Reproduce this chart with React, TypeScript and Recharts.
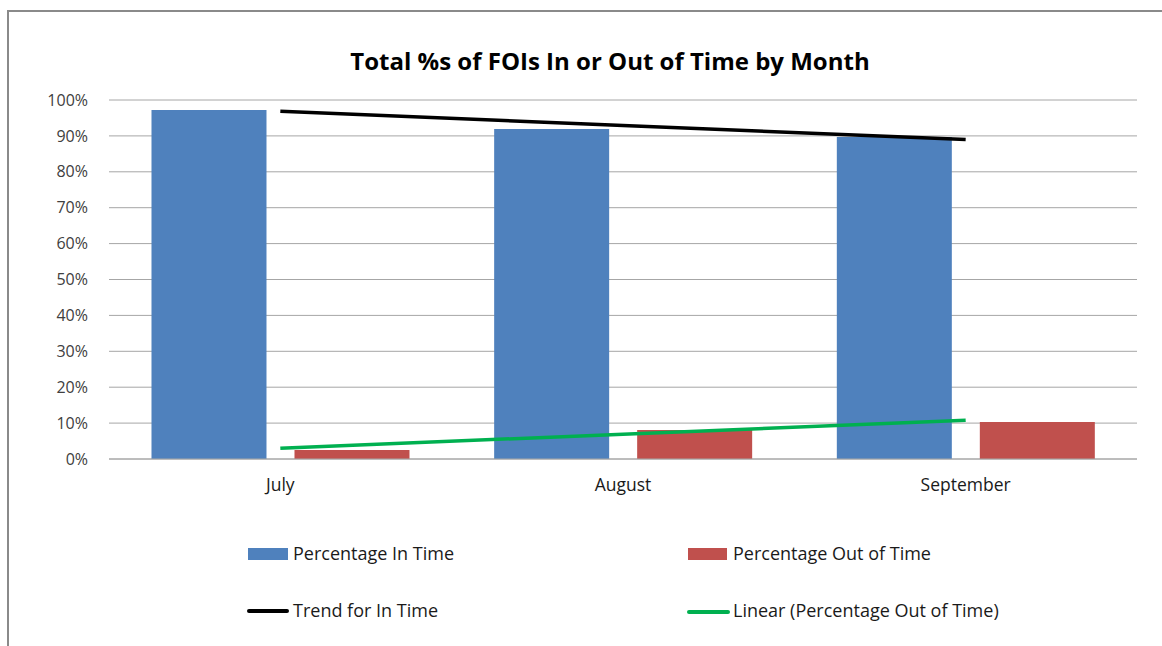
import React from 'react';
import { ComposedChart, Bar, Line, XAxis, YAxis, CartesianGrid } from 'recharts';

const months = ['July', 'August', 'September'];
const inTime = [97.2, 91.9, 89.7];
const outTime = [2.5, 8.1, 10.3];
const trendIn = [96.9, 92.9, 89.0];
const trendOut = [3.0, 6.9, 10.8];
const yTicks = [0, 10, 20, 30, 40, 50, 60, 70, 80, 90, 100];

const data = months.map((m, i) => ({
  month: m,
  inTime: inTime[i],
  outTime: outTime[i],
  trendIn: trendIn[i],
  trendOut: trendOut[i],
}));

const FONT = '"Open Sans", "Noto Sans", sans-serif';
const BLUE = '#4f81bd';
const RED = '#c0504d';
const GREEN = '#00b050';

export default function App() {
  const legendText: React.CSSProperties = {
    position: 'absolute',
    fontFamily: FONT,
    fontSize: 18,
    color: '#1a1a1a',
    lineHeight: '20px',
    whiteSpace: 'nowrap',
  };
  return (
    <div style={{ position: 'absolute', left: 0, top: 0, width: 1162, height: 646, background: '#fff', overflow: 'hidden' }}>
      <div style={{ position: 'absolute', left: 7, top: 10, width: 1200, height: 700, border: '2px solid #8a8a8a', boxSizing: 'border-box' }} />
      <div style={{ position: 'absolute', left: 0, top: 46, width: 1220, textAlign: 'center', fontFamily: FONT, fontWeight: 700, fontSize: 24, color: '#000', lineHeight: '30px' }}>
        Total %s of FOIs In or Out of Time by Month
      </div>
      <div style={{ position: 'absolute', left: 0, top: 0 }}>
        <ComposedChart
          width={1162}
          height={646}
          data={data}
          margin={{ top: 100, right: 25, bottom: 157, left: 0 }}
          barCategoryGap="12.4%"
          barGap={28}
        >
          <CartesianGrid vertical={false} stroke="#a6a6a6" strokeWidth={1} />
          <XAxis
            dataKey="month"
            axisLine={{ stroke: '#a6a6a6' }}
            tickLine={false}
            tickSize={0}
            tickMargin={20}
            height={30}
            tick={{ fontFamily: FONT, fontSize: 17.5, fill: '#1a1a1a' }}
          />
          <YAxis
            domain={[0, 100]}
            ticks={yTicks}
            interval={0}
            width={109}
            axisLine={false}
            tickLine={false}
            tickSize={0}
            tickMargin={21}
            tickFormatter={(v: number) => `${v}%`}
            tick={{ fontFamily: FONT, fontSize: 16, fill: '#404040' }}
          />
          <Bar dataKey="inTime" fill={BLUE} isAnimationActive={false} />
          <Bar dataKey="outTime" fill={RED} isAnimationActive={false} />
          <Line type="linear" dataKey="trendIn" stroke="#000" strokeWidth={3.5} dot={false} activeDot={false} isAnimationActive={false} />
          <Line type="linear" dataKey="trendOut" stroke={GREEN} strokeWidth={3.5} dot={false} activeDot={false} isAnimationActive={false} />
        </ComposedChart>
      </div>
      <div style={{ position: 'absolute', left: 248, top: 548, width: 40, height: 12, background: BLUE }} />
      <div style={{ ...legendText, left: 293, top: 543 }}>Percentage In Time</div>
      <div style={{ position: 'absolute', left: 688, top: 548, width: 39, height: 12, background: RED }} />
      <div style={{ ...legendText, left: 733, top: 543 }}>Percentage Out of Time</div>
      <div style={{ position: 'absolute', left: 247, top: 609, width: 42, height: 4, borderRadius: 2, background: '#000' }} />
      <div style={{ ...legendText, left: 293, top: 600 }}>Trend for In Time</div>
      <div style={{ position: 'absolute', left: 687, top: 610, width: 43, height: 4, borderRadius: 2, background: GREEN }} />
      <div style={{ ...legendText, left: 733, top: 600 }}>Linear (Percentage Out of Time)</div>
    </div>
  );
}
